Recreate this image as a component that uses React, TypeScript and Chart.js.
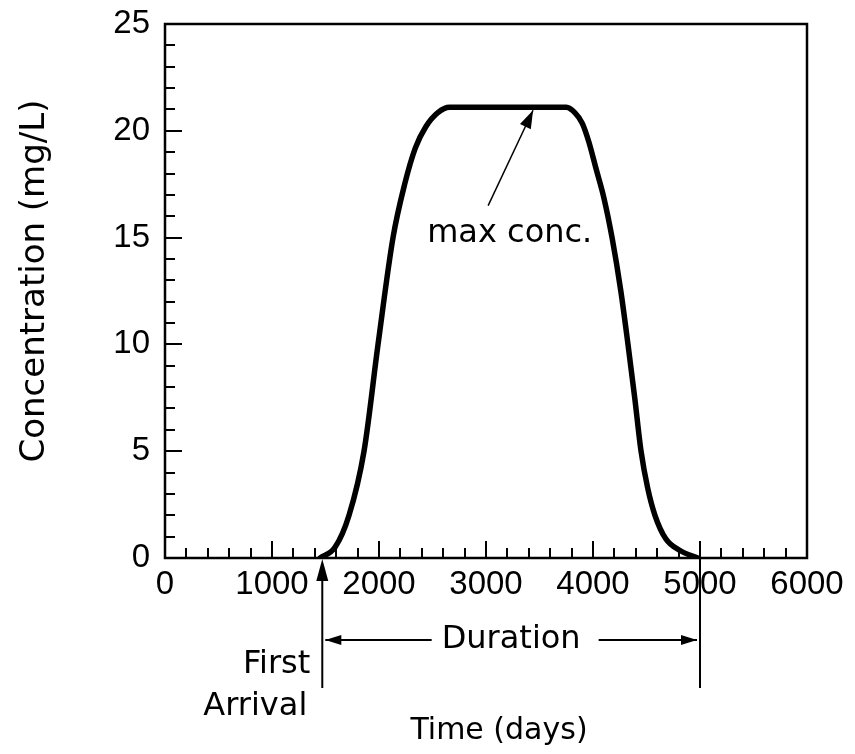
import React, { useEffect, useRef } from "react";
import { Chart, registerables } from "chart.js";

Chart.register(...registerables);

// ---- data ----
const timeDays = [1450, 1589, 1720, 1860, 1991, 2131, 2240, 2340, 2439, 2550, 2660, 3750, 3830, 3900, 3960, 4030, 4100, 4178, 4260, 4327, 4390, 4449, 4510, 4579, 4680, 4813, 4980];
const concentration = [0, 0.5, 2.0, 5.0, 10.0, 15.0, 17.5, 19.2, 20.2, 20.85, 21.1, 21.1, 20.85, 20.35, 19.5, 18.2, 16.9, 15.0, 12.5, 10.0, 7.5, 5.0, 3.3, 2.0, 0.9, 0.35, 0];

const xTicks = [0, 1000, 2000, 3000, 4000, 5000, 6000];
const yTicks = [0, 5, 10, 15, 20, 25];
const xMinorStep = 200;
const yMinorStep = 1;

const xTitle = "Time (days)";
const yTitle = "Concentration (mg/L)";
const maxLabel = "max conc.";
const durationLabel = "Duration";
const firstArrivalLabel = ["First", "Arrival"];

const firstArrivalDay = 1470;
const endDay = 5000;
const endLineTopConc = 0.75;
const maxArrowTip = [3440, 21.1];
const maxArrowTail = [3020, 16.5];
const maxLabelPos = [2450, 15.2];

const TEXT_FONT = "32px 'DejaVu Sans'";
const TICK_FONT_FAMILY = "'Liberation Sans', Arial, sans-serif";

function arrowHead(ctx: CanvasRenderingContext2D, tx: number, ty: number, fx: number, fy: number, len: number, half: number) {
  const ang = Math.atan2(ty - fy, tx - fx);
  const bx = tx - len * Math.cos(ang);
  const by = ty - len * Math.sin(ang);
  const px = -Math.sin(ang) * half;
  const py = Math.cos(ang) * half;
  ctx.beginPath();
  ctx.moveTo(tx, ty);
  ctx.lineTo(bx + px, by + py);
  ctx.lineTo(bx - px, by - py);
  ctx.closePath();
  ctx.fill();
}

const decorPlugin = {
  id: "decor",
  beforeDraw(chart: any) {
    const ctx = chart.ctx;
    ctx.save();
    ctx.fillStyle = "#ffffff";
    ctx.fillRect(0, 0, chart.width, chart.height);
    ctx.restore();
  },
  afterDraw(chart: any) {
    const ctx: CanvasRenderingContext2D = chart.ctx;
    const xs = chart.scales.x;
    const ys = chart.scales.y;
    const area = chart.chartArea;
    ctx.save();
    ctx.strokeStyle = "#000";
    ctx.fillStyle = "#000";

    // inward ticks
    ctx.lineWidth = 2;
    ctx.beginPath();
    for (let v = xMinorStep; v < xs.max; v += xMinorStep) {
      const px = Math.round(xs.getPixelForValue(v));
      const major = xTicks.includes(v);
      ctx.moveTo(px, area.bottom);
      ctx.lineTo(px, area.bottom - (major ? 17 : 10));
    }
    for (let v = yMinorStep; v < ys.max; v += yMinorStep) {
      const py = Math.round(ys.getPixelForValue(v));
      const major = yTicks.includes(v);
      ctx.moveTo(area.left, py);
      ctx.lineTo(area.left + (major ? 17 : 10), py);
    }
    ctx.stroke();

    // box
    ctx.lineWidth = 2.5;
    ctx.strokeRect(area.left, area.top, area.right - area.left, area.bottom - area.top);

    // max conc annotation
    const tipX = xs.getPixelForValue(maxArrowTip[0]);
    const tipY = ys.getPixelForValue(maxArrowTip[1]) + 3;
    const tailX = xs.getPixelForValue(maxArrowTail[0]);
    const tailY = ys.getPixelForValue(maxArrowTail[1]);
    ctx.lineWidth = 1.5;
    ctx.beginPath();
    ctx.moveTo(tailX, tailY);
    ctx.lineTo(tipX, tipY);
    ctx.stroke();
    arrowHead(ctx, tipX, tipY, tailX, tailY, 18, 6);
    ctx.font = TEXT_FONT;
    ctx.textAlign = "left";
    ctx.textBaseline = "middle";
    ctx.fillText(maxLabel, xs.getPixelForValue(maxLabelPos[0]), ys.getPixelForValue(maxLabelPos[1]));

    // first arrival / duration lines
    const fx = xs.getPixelForValue(firstArrivalDay);
    const ex = xs.getPixelForValue(endDay);
    const lineBottom = area.bottom + 130;
    ctx.lineWidth = 2;
    ctx.beginPath();
    ctx.moveTo(fx, area.bottom + 14);
    ctx.lineTo(fx, lineBottom);
    ctx.moveTo(ex, ys.getPixelForValue(endLineTopConc));
    ctx.lineTo(ex, lineBottom);
    ctx.stroke();
    arrowHead(ctx, fx, area.bottom + 1, fx, area.bottom + 30, 22, 6);

    const dy = area.bottom + 82;
    ctx.font = TEXT_FONT;
    ctx.textAlign = "center";
    ctx.textBaseline = "middle";
    const midX = (fx + ex) / 2;
    ctx.fillText(durationLabel, midX, dy);
    const tw = ctx.measureText(durationLabel).width;
    ctx.beginPath();
    ctx.moveTo(fx + 3, dy);
    ctx.lineTo(midX - tw / 2 - 10, dy);
    ctx.moveTo(midX + tw / 2 + 18, dy);
    ctx.lineTo(ex - 3, dy);
    ctx.stroke();
    arrowHead(ctx, fx + 3, dy, fx + 30, dy, 16, 5);
    arrowHead(ctx, ex - 3, dy, ex - 30, dy, 16, 5);

    ctx.textAlign = "right";
    ctx.fillText(firstArrivalLabel[0], fx - 12, area.bottom + 107);
    ctx.fillText(firstArrivalLabel[1], fx - 15, area.bottom + 149);

    // axis titles
    ctx.textAlign = "center";
    ctx.font = "30px 'DejaVu Sans'";
    ctx.fillText(xTitle, (area.left + area.right) / 2 + 13, area.bottom + 173);
    ctx.save();
    ctx.translate(35, (area.top + area.bottom) / 2 - 10);
    ctx.rotate(-Math.PI / 2);
    ctx.font = "34px 'DejaVu Sans'";
    ctx.fillText(yTitle, 0, 0);
    ctx.restore();

    ctx.restore();
  },
};

export default function App() {
  const ref = useRef<HTMLCanvasElement | null>(null);
  useEffect(() => {
    document.body.style.margin = "0";
    const canvas = ref.current;
    if (!canvas) return;
    const chart = new Chart(canvas, {
      type: "line",
      data: {
        datasets: [
          {
            data: timeDays.map((t, i) => ({ x: t, y: concentration[i] })),
            borderColor: "#000",
            borderWidth: 5.5,
            pointRadius: 0,
            cubicInterpolationMode: "monotone",
            borderJoinStyle: "round",
            borderCapStyle: "round",
            fill: false,
          },
        ],
      },
      options: {
        responsive: false,
        animation: false,
        devicePixelRatio: 1,
        layout: { padding: { left: 0, top: 24, right: 48, bottom: 0 } },
        plugins: { legend: { display: false }, tooltip: { enabled: false }, title: { display: false } },
        scales: {
          x: {
            type: "linear",
            min: 0,
            max: 6000,
            grid: { display: false, drawTicks: false },
            border: { display: false },
            afterBuildTicks: (s: any) => {
              s.ticks = xTicks.map((v) => ({ value: v }));
            },
            afterFit: (s: any) => {
              s.height = 754 - 558;
              s.paddingLeft = 0;
              s.paddingRight = 0;
            },
            ticks: {
              padding: 7,
              color: "#000",
              maxRotation: 0,
              autoSkip: false,
              callback: (v: any) => String(v),
              font: { family: TICK_FONT_FAMILY, size: 33 },
            },
          },
          y: {
            type: "linear",
            min: 0,
            max: 25,
            grid: { display: false, drawTicks: false },
            border: { display: false },
            afterBuildTicks: (s: any) => {
              s.ticks = yTicks.map((v) => ({ value: v }));
            },
            afterFit: (s: any) => {
              s.width = 165;
              s.paddingTop = 0;
              s.paddingBottom = 0;
            },
            ticks: {
              padding: 15,
              color: "#000",
              callback: (v: any) => String(v),
              font: { family: TICK_FONT_FAMILY, size: 33 },
            },
          },
        },
      },
      plugins: [decorPlugin],
    } as any);
    return () => chart.destroy();
  }, []);
  return (
    <div style={{ width: 855, height: 754 }}>
      <canvas ref={ref} width={855} height={754} style={{ display: "block", width: 855, height: 754 }} />
    </div>
  );
}
